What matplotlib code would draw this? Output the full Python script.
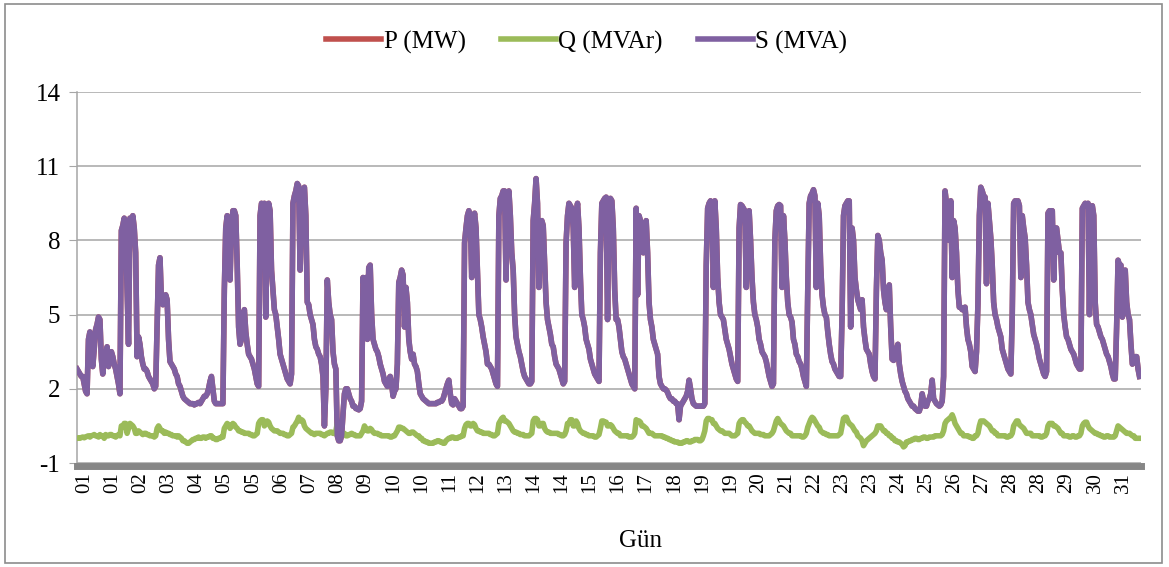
import numpy as np
import matplotlib
matplotlib.use("Agg")
import matplotlib.pyplot as plt
from matplotlib.patches import Rectangle

# hourly values, one row per day (01..31)
s_mva = [
    [2.8, 2.7, 2.6, 2.5, 2.5, 2.2, 1.9, 1.8, 4.0, 4.3, 3.2, 2.9, 3.6, 4.4, 4.6, 4.9, 4.8, 3.2, 2.6, 3.5, 3.3, 3.7, 2.9, 3.4],
    [3.5, 3.3, 3.0, 2.8, 2.5, 2.2, 1.8, 8.4, 8.6, 8.9, 8.5, 6.0, 3.8, 8.9, 8.7, 9.0, 8.5, 7.5, 3.3, 4.1, 3.8, 3.3, 3.0, 2.8],
    [2.8, 2.7, 2.5, 2.4, 2.3, 2.2, 2.0, 2.1, 4.5, 7.0, 7.3, 5.6, 5.4, 5.6, 5.8, 5.6, 4.0, 3.1, 3.0, 2.9, 2.8, 2.6, 2.5, 2.2],
    [2.1, 1.9, 1.7, 1.6, 1.55, 1.5, 1.45, 1.4, 1.4, 1.4, 1.35, 1.4, 1.4, 1.45, 1.4, 1.5, 1.6, 1.7, 1.7, 1.8, 2.0, 2.3, 2.5, 2.0],
    [1.5, 1.4, 1.4, 1.4, 1.4, 1.4, 1.4, 6.0, 8.5, 9.0, 8.8, 6.4, 8.5, 9.2, 9.2, 9.0, 7.0, 4.5, 3.8, 4.0, 4.6, 5.2, 4.3, 3.8],
    [3.4, 3.3, 3.2, 3.0, 2.8, 2.5, 2.2, 2.1, 9.0, 9.5, 9.4, 9.5, 4.9, 9.0, 9.5, 9.2, 6.8, 6.0, 5.2, 5.0, 4.5, 4.0, 3.4, 3.2],
    [3.0, 2.8, 2.6, 2.4, 2.3, 2.2, 2.6, 9.5, 9.8, 10.0, 10.3, 10.2, 6.8, 9.0, 10.0, 10.15, 9.0, 5.5, 5.4, 5.0, 4.8, 4.6, 4.0, 3.7],
    [3.6, 3.4, 3.3, 3.0, 2.5, 0.5, 2.0, 6.4, 5.5, 5.0, 4.8, 3.5, 3.0, 2.8, 0.1, -0.1, -0.1, 0.1, 1.0, 1.8, 2.0, 2.0, 1.8, 1.6],
    [1.5, 1.3, 1.3, 1.2, 1.2, 1.15, 1.2, 1.5, 6.5, 6.0, 6.5, 4.0, 6.9, 7.0, 5.0, 4.0, 3.8, 3.6, 3.5, 3.3, 3.0, 2.8, 2.6, 2.3],
    [2.2, 2.1, 2.4, 2.5, 2.2, 1.7, 1.9, 2.0, 3.0, 6.3, 6.5, 6.8, 6.6, 4.5, 6.1, 5.5, 4.0, 3.5, 3.2, 3.4, 3.0, 2.9, 2.7, 2.2],
    [1.8, 1.7, 1.6, 1.55, 1.5, 1.45, 1.4, 1.4, 1.4, 1.4, 1.4, 1.4, 1.45, 1.45, 1.5, 1.5, 1.6, 1.8, 2.0, 2.2, 2.35, 1.8, 1.4, 1.35],
    [1.6, 1.5, 1.4, 1.3, 1.2, 1.2, 1.3, 7.9, 8.5, 9.0, 9.2, 9.0, 6.5, 8.8, 9.1, 8.5, 6.8, 5.0, 4.8, 4.5, 4.1, 3.8, 3.5, 3.0],
    [3.0, 2.9, 2.8, 2.6, 2.4, 2.2, 2.1, 9.0, 9.7, 9.8, 10.0, 10.0, 6.4, 9.8, 10.0, 9.0, 7.5, 6.8, 5.0, 4.1, 3.8, 3.5, 3.3, 3.0],
    [2.7, 2.5, 2.4, 2.3, 2.2, 2.2, 2.3, 8.8, 9.5, 10.5, 9.5, 6.1, 8.5, 8.8, 8.6, 7.0, 5.5, 4.8, 4.5, 4.2, 3.8, 3.7, 3.3, 3.0],
    [2.9, 2.8, 2.6, 2.4, 2.2, 2.3, 7.9, 9.0, 9.5, 9.4, 9.3, 8.5, 6.1, 9.0, 9.5, 8.5, 6.5, 5.0, 4.8, 4.5, 4.0, 3.8, 3.6, 3.2],
    [3.0, 2.8, 2.6, 2.5, 2.4, 2.3, 7.5, 9.5, 9.6, 9.7, 9.75, 4.8, 9.5, 9.7, 9.6, 8.5, 6.0, 4.8, 4.8, 4.5, 4.0, 3.5, 3.3, 3.2],
    [3.0, 2.8, 2.6, 2.4, 2.2, 2.1, 2.0, 9.3, 5.8, 9.0, 8.8, 8.6, 7.5, 8.5, 8.8, 7.5, 5.5, 4.8, 4.5, 4.0, 3.8, 3.6, 3.4, 2.5],
    [2.2, 2.1, 2.0, 2.0, 1.95, 1.85, 1.7, 1.6, 1.6, 1.5, 1.5, 1.4, 1.4, 0.75, 1.3, 1.4, 1.5, 1.6, 1.7, 1.9, 2.35, 2.0, 1.6, 1.4],
    [1.35, 1.3, 1.3, 1.3, 1.3, 1.3, 1.3, 1.4, 7.0, 9.3, 9.5, 9.6, 9.4, 6.1, 9.6, 8.5, 6.5, 5.5, 5.0, 4.9, 4.8, 4.4, 4.0, 3.8],
    [3.6, 3.3, 3.0, 2.8, 2.6, 2.4, 2.3, 8.5, 9.45, 9.4, 9.3, 9.2, 6.1, 9.0, 9.2, 8.0, 6.5, 5.5, 5.0, 4.8, 4.5, 4.0, 3.8, 3.5],
    [3.4, 3.3, 3.1, 2.8, 2.5, 2.3, 2.1, 2.2, 8.0, 9.2, 9.4, 9.45, 9.4, 6.1, 9.0, 8.0, 6.5, 5.5, 5.0, 4.9, 4.7, 4.0, 3.8, 3.4],
    [3.3, 3.1, 3.0, 2.8, 2.5, 2.3, 2.1, 6.0, 9.5, 9.8, 9.9, 10.05, 9.8, 6.1, 9.5, 9.0, 7.0, 5.8, 5.3, 5.0, 4.9, 4.3, 3.8, 3.4],
    [3.1, 3.0, 2.8, 2.7, 2.6, 2.5, 2.5, 5.0, 9.0, 9.4, 9.5, 9.6, 9.6, 4.5, 8.5, 8.0, 6.5, 6.0, 5.6, 5.4, 5.2, 5.6, 4.5, 4.0],
    [3.6, 3.5, 3.4, 3.0, 2.7, 2.5, 2.4, 6.0, 8.2, 8.0, 7.5, 7.2, 6.0, 5.5, 5.2, 5.8, 6.2, 4.5, 3.2, 3.15, 3.3, 3.6, 3.8, 3.0],
    [2.6, 2.3, 2.1, 1.9, 1.8, 1.6, 1.5, 1.4, 1.3, 1.3, 1.2, 1.15, 1.1, 1.1, 1.3, 1.8, 1.5, 1.3, 1.3, 1.5, 1.6, 1.8, 2.35, 1.6],
    [1.5, 1.4, 1.35, 1.3, 1.35, 1.5, 2.5, 10.0, 9.5, 9.5, 8.0, 9.6, 6.5, 8.8, 8.5, 7.5, 6.0, 5.3, 5.3, 5.2, 5.2, 5.3, 4.5, 4.0],
    [3.8, 3.5, 2.9, 2.8, 2.7, 3.5, 5.4, 9.0, 10.15, 10.0, 9.8, 9.75, 6.25, 9.5, 8.8, 8.1, 7.0, 5.5, 5.0, 4.8, 4.5, 4.3, 4.1, 3.6],
    [3.4, 3.2, 3.0, 2.8, 2.7, 2.6, 5.0, 9.5, 9.6, 9.5, 9.6, 9.4, 6.5, 9.0, 8.5, 8.1, 7.0, 5.5, 5.2, 5.0, 4.6, 4.2, 4.0, 3.8],
    [3.5, 3.2, 3.0, 2.8, 2.6, 2.5, 2.7, 9.1, 9.2, 9.0, 9.2, 6.4, 8.5, 8.5, 8.0, 7.5, 7.5, 6.0, 5.0, 4.5, 4.1, 4.0, 3.8, 3.6],
    [3.5, 3.4, 3.2, 3.0, 2.9, 2.8, 2.8, 9.3, 9.4, 9.5, 9.4, 9.5, 5.0, 9.2, 9.4, 9.0, 5.5, 4.6, 4.5, 4.3, 4.1, 4.0, 3.8, 3.6],
    [3.4, 3.3, 3.1, 2.9, 2.6, 2.4, 2.4, 4.5, 7.2, 7.0, 7.0, 4.9, 6.6, 6.8, 5.5, 5.0, 4.8, 3.8, 3.0, 3.1, 3.3, 3.3, 2.8, 2.5],
]

# P lies right under S (Q is small), the red line barely shows anywhere
p_mw = [
    [2.8, 2.7, 2.6, 2.5, 2.5, 2.2, 1.9, 1.8, 4.0, 4.3, 3.2, 2.9, 3.6, 4.4, 4.6, 4.9, 4.8, 3.2, 2.6, 3.5, 3.3, 3.7, 2.9, 3.4],
    [3.5, 3.3, 3.0, 2.8, 2.5, 2.2, 1.8, 8.4, 8.6, 8.9, 8.5, 6.0, 3.8, 8.9, 8.7, 9.0, 8.5, 7.5, 3.3, 4.1, 3.8, 3.3, 3.0, 2.8],
    [2.8, 2.7, 2.5, 2.4, 2.3, 2.2, 2.0, 2.1, 4.5, 7.0, 7.3, 5.6, 5.4, 5.6, 5.8, 5.6, 4.0, 3.1, 3.0, 2.9, 2.8, 2.6, 2.5, 2.2],
    [2.1, 1.9, 1.7, 1.6, 1.55, 1.5, 1.45, 1.4, 1.4, 1.4, 1.35, 1.4, 1.4, 1.45, 1.4, 1.5, 1.6, 1.7, 1.7, 1.8, 2.0, 2.3, 2.5, 2.0],
    [1.5, 1.4, 1.4, 1.4, 1.4, 1.4, 1.4, 6.0, 8.5, 9.0, 8.8, 6.4, 8.5, 9.2, 9.2, 9.0, 7.0, 4.5, 3.8, 4.0, 4.6, 5.2, 4.3, 3.8],
    [3.4, 3.3, 3.2, 3.0, 2.8, 2.5, 2.2, 2.1, 9.0, 9.5, 9.4, 9.5, 4.9, 9.0, 9.5, 9.2, 6.8, 6.0, 5.2, 5.0, 4.5, 4.0, 3.4, 3.2],
    [3.0, 2.8, 2.6, 2.4, 2.3, 2.2, 2.6, 9.5, 9.8, 10.0, 10.3, 10.2, 6.8, 9.0, 10.0, 10.15, 9.0, 5.5, 5.4, 5.0, 4.8, 4.6, 4.0, 3.7],
    [3.6, 3.4, 3.3, 3.0, 2.5, 0.5, 2.0, 6.4, 5.5, 5.0, 4.8, 3.5, 3.0, 2.8, 0.1, -0.1, -0.1, 0.1, 1.0, 1.8, 2.0, 2.0, 1.8, 1.6],
    [1.5, 1.3, 1.3, 1.2, 1.2, 1.15, 1.2, 1.5, 6.5, 6.0, 6.5, 4.0, 6.9, 7.0, 5.0, 4.0, 3.8, 3.6, 3.5, 3.3, 3.0, 2.8, 2.6, 2.3],
    [2.2, 2.1, 2.4, 2.5, 2.2, 1.7, 1.9, 2.0, 3.0, 6.3, 6.5, 6.8, 6.6, 4.5, 6.1, 5.5, 4.0, 3.5, 3.2, 3.4, 3.0, 2.9, 2.7, 2.2],
    [1.8, 1.7, 1.6, 1.55, 1.5, 1.45, 1.4, 1.4, 1.4, 1.4, 1.4, 1.4, 1.45, 1.45, 1.5, 1.5, 1.6, 1.8, 2.0, 2.2, 2.35, 1.8, 1.4, 1.35],
    [1.6, 1.5, 1.4, 1.3, 1.2, 1.2, 1.3, 7.9, 8.5, 9.0, 9.2, 9.0, 6.5, 8.8, 9.1, 8.5, 6.8, 5.0, 4.8, 4.5, 4.1, 3.8, 3.5, 3.0],
    [3.0, 2.9, 2.8, 2.6, 2.4, 2.2, 2.1, 9.0, 9.7, 9.8, 10.0, 10.0, 6.4, 9.8, 10.0, 9.0, 7.5, 6.8, 5.0, 4.1, 3.8, 3.5, 3.3, 3.0],
    [2.7, 2.5, 2.4, 2.3, 2.2, 2.2, 2.3, 8.8, 9.5, 10.5, 9.5, 6.1, 8.5, 8.8, 8.6, 7.0, 5.5, 4.8, 4.5, 4.2, 3.8, 3.7, 3.3, 3.0],
    [2.9, 2.8, 2.6, 2.4, 2.2, 2.3, 7.9, 9.0, 9.5, 9.4, 9.3, 8.5, 6.1, 9.0, 9.5, 8.5, 6.5, 5.0, 4.8, 4.5, 4.0, 3.8, 3.6, 3.2],
    [3.0, 2.8, 2.6, 2.5, 2.4, 2.3, 7.5, 9.5, 9.6, 9.7, 9.75, 4.8, 9.5, 9.7, 9.6, 8.5, 6.0, 4.8, 4.8, 4.5, 4.0, 3.5, 3.3, 3.2],
    [3.0, 2.8, 2.6, 2.4, 2.2, 2.1, 2.0, 9.3, 5.8, 9.0, 8.8, 8.6, 7.5, 8.5, 8.8, 7.5, 5.5, 4.8, 4.5, 4.0, 3.8, 3.6, 3.4, 2.5],
    [2.2, 2.1, 2.0, 2.0, 1.95, 1.85, 1.7, 1.6, 1.6, 1.5, 1.5, 1.4, 1.4, 0.75, 1.3, 1.4, 1.5, 1.6, 1.7, 1.9, 2.35, 2.0, 1.6, 1.4],
    [1.35, 1.3, 1.3, 1.3, 1.3, 1.3, 1.3, 1.4, 7.0, 9.3, 9.5, 9.6, 9.4, 6.1, 9.6, 8.5, 6.5, 5.5, 5.0, 4.9, 4.8, 4.4, 4.0, 3.8],
    [3.6, 3.3, 3.0, 2.8, 2.6, 2.4, 2.3, 8.5, 9.45, 9.4, 9.3, 9.2, 6.1, 9.0, 9.2, 8.0, 6.5, 5.5, 5.0, 4.8, 4.5, 4.0, 3.8, 3.5],
    [3.4, 3.3, 3.1, 2.8, 2.5, 2.3, 2.1, 2.2, 8.0, 9.2, 9.4, 9.45, 9.4, 6.1, 9.0, 8.0, 6.5, 5.5, 5.0, 4.9, 4.7, 4.0, 3.8, 3.4],
    [3.3, 3.1, 3.0, 2.8, 2.5, 2.3, 2.1, 6.0, 9.5, 9.8, 9.9, 10.05, 9.8, 6.1, 9.5, 9.0, 7.0, 5.8, 5.3, 5.0, 4.9, 4.3, 3.8, 3.4],
    [3.1, 3.0, 2.8, 2.7, 2.6, 2.5, 2.5, 5.0, 9.0, 9.4, 9.5, 9.6, 9.6, 4.5, 8.5, 8.0, 6.5, 6.0, 5.6, 5.4, 5.2, 5.6, 4.5, 4.0],
    [3.6, 3.5, 3.4, 3.0, 2.7, 2.5, 2.4, 6.0, 8.2, 8.0, 7.5, 7.2, 6.0, 5.5, 5.2, 5.8, 6.2, 4.5, 3.2, 3.15, 3.3, 3.6, 3.8, 3.0],
    [2.6, 2.3, 2.1, 1.9, 1.8, 1.6, 1.5, 1.4, 1.3, 1.3, 1.2, 1.15, 1.1, 1.1, 1.3, 1.8, 1.5, 1.3, 1.3, 1.5, 1.6, 1.8, 2.35, 1.6],
    [1.5, 1.4, 1.35, 1.3, 1.35, 1.5, 2.5, 10.0, 9.5, 9.5, 8.0, 9.6, 6.5, 8.8, 8.5, 7.5, 6.0, 5.3, 5.3, 5.2, 5.2, 5.3, 4.5, 4.0],
    [3.8, 3.5, 2.9, 2.8, 2.7, 3.5, 5.4, 9.0, 10.15, 10.0, 9.8, 9.75, 6.25, 9.5, 8.8, 8.1, 7.0, 5.5, 5.0, 4.8, 4.5, 4.3, 4.1, 3.6],
    [3.4, 3.2, 3.0, 2.8, 2.7, 2.6, 5.0, 9.5, 9.6, 9.5, 9.6, 9.4, 6.5, 9.0, 8.5, 8.1, 7.0, 5.5, 5.2, 5.0, 4.6, 4.2, 4.0, 3.8],
    [3.5, 3.2, 3.0, 2.8, 2.6, 2.5, 2.7, 9.1, 9.2, 9.0, 9.2, 6.4, 8.5, 8.5, 8.0, 7.5, 7.5, 6.0, 5.0, 4.5, 4.1, 4.0, 3.8, 3.6],
    [3.5, 3.4, 3.2, 3.0, 2.9, 2.8, 2.8, 9.3, 9.4, 9.5, 9.4, 9.5, 5.0, 9.2, 9.4, 9.0, 5.5, 4.6, 4.5, 4.3, 4.1, 4.0, 3.8, 3.6],
    [3.4, 3.3, 3.1, 2.9, 2.6, 2.4, 2.4, 4.5, 7.2, 7.0, 7.0, 4.9, 6.6, 6.8, 5.5, 5.0, 4.8, 3.8, 3.0, 3.1, 3.3, 3.3, 2.8, 2.5],
]

q_mvar = [
    [0.0, 0.02, 0.0, 0.03, 0.05, 0.02, 0.05, 0.08, 0.1, 0.05, 0.1, 0.12, 0.15, 0.1, 0.1, 0.05, 0.15, 0.1, 0.1, 0.0, 0.15, 0.1, 0.1, 0.15],
    [0.15, 0.1, 0.1, 0.05, 0.1, 0.15, 0.1, 0.5, 0.45, 0.6, 0.6, 0.2, 0.4, 0.6, 0.55, 0.5, 0.4, 0.2, 0.2, 0.3, 0.25, 0.2, 0.15, 0.2],
    [0.2, 0.15, 0.15, 0.1, 0.1, 0.1, 0.05, 0.1, 0.4, 0.5, 0.4, 0.3, 0.3, 0.2, 0.25, 0.2, 0.2, 0.15, 0.15, 0.1, 0.1, 0.1, 0.05, 0.1],
    [0.05, 0.0, -0.1, -0.1, -0.15, -0.2, -0.2, -0.15, -0.1, -0.05, -0.05, 0.0, 0.0, 0.05, 0.0, 0.0, 0.05, 0.05, 0.0, 0.05, 0.05, 0.1, 0.1, 0.0],
    [0.0, -0.05, -0.05, 0.0, 0.0, 0.05, 0.05, 0.4, 0.5, 0.6, 0.55, 0.4, 0.5, 0.6, 0.55, 0.45, 0.4, 0.3, 0.3, 0.25, 0.25, 0.2, 0.2, 0.2],
    [0.2, 0.15, 0.15, 0.1, 0.1, 0.15, 0.2, 0.6, 0.7, 0.75, 0.75, 0.5, 0.6, 0.7, 0.65, 0.5, 0.4, 0.35, 0.3, 0.3, 0.3, 0.25, 0.2, 0.2],
    [0.2, 0.15, 0.15, 0.1, 0.1, 0.15, 0.2, 0.45, 0.5, 0.6, 0.7, 0.85, 0.7, 0.75, 0.7, 0.5, 0.4, 0.35, 0.3, 0.25, 0.2, 0.2, 0.15, 0.2],
    [0.2, 0.2, 0.2, 0.15, 0.15, 0.1, 0.15, 0.2, 0.2, 0.25, 0.25, 0.2, 0.2, 0.3, 0.6, 0.2, 0.15, 0.15, 0.2, 0.2, 0.1, 0.1, 0.15, 0.15],
    [0.2, 0.15, 0.15, 0.1, 0.1, 0.1, 0.1, 0.2, 0.3, 0.5, 0.4, 0.3, 0.3, 0.4, 0.35, 0.25, 0.2, 0.2, 0.2, 0.15, 0.15, 0.1, 0.1, 0.1],
    [0.1, 0.1, 0.1, 0.05, 0.05, 0.1, 0.1, 0.2, 0.3, 0.45, 0.45, 0.4, 0.4, 0.35, 0.3, 0.25, 0.2, 0.2, 0.25, 0.25, 0.2, 0.15, 0.1, 0.1],
    [0.0, 0.0, -0.1, -0.1, -0.15, -0.15, -0.2, -0.2, -0.2, -0.2, -0.15, -0.15, -0.1, -0.1, -0.15, -0.15, -0.2, -0.2, -0.1, -0.05, 0.0, 0.0, 0.05, 0.05],
    [0.0, 0.0, 0.0, 0.05, 0.05, 0.1, 0.1, 0.4, 0.55, 0.6, 0.6, 0.5, 0.5, 0.6, 0.55, 0.4, 0.3, 0.3, 0.25, 0.25, 0.2, 0.2, 0.2, 0.2],
    [0.2, 0.15, 0.15, 0.1, 0.1, 0.15, 0.2, 0.6, 0.7, 0.8, 0.85, 0.7, 0.7, 0.65, 0.6, 0.5, 0.4, 0.3, 0.25, 0.25, 0.2, 0.2, 0.15, 0.15],
    [0.15, 0.1, 0.1, 0.1, 0.1, 0.15, 0.2, 0.7, 0.8, 0.8, 0.75, 0.5, 0.5, 0.6, 0.6, 0.4, 0.3, 0.25, 0.25, 0.2, 0.2, 0.2, 0.2, 0.2],
    [0.2, 0.15, 0.15, 0.1, 0.1, 0.15, 0.3, 0.6, 0.6, 0.75, 0.75, 0.5, 0.5, 0.7, 0.6, 0.4, 0.3, 0.25, 0.2, 0.2, 0.15, 0.15, 0.1, 0.1],
    [0.1, 0.1, 0.05, 0.05, 0.1, 0.15, 0.4, 0.7, 0.7, 0.65, 0.65, 0.5, 0.5, 0.55, 0.5, 0.4, 0.3, 0.25, 0.2, 0.2, 0.1, 0.1, 0.1, 0.1],
    [0.1, 0.1, 0.05, 0.05, 0.05, 0.1, 0.2, 0.75, 0.7, 0.7, 0.65, 0.5, 0.5, 0.45, 0.4, 0.3, 0.2, 0.2, 0.2, 0.15, 0.1, 0.1, 0.1, 0.1],
    [0.1, 0.1, 0.05, 0.05, 0.0, 0.0, -0.05, -0.05, -0.1, -0.1, -0.15, -0.15, -0.15, -0.2, -0.2, -0.2, -0.15, -0.15, -0.1, -0.1, -0.15, -0.15, -0.1, -0.1],
    [-0.05, -0.05, -0.05, -0.1, -0.1, -0.05, 0.1, 0.3, 0.7, 0.8, 0.8, 0.75, 0.75, 0.6, 0.6, 0.5, 0.4, 0.35, 0.3, 0.3, 0.25, 0.2, 0.2, 0.2],
    [0.2, 0.15, 0.1, 0.1, 0.1, 0.15, 0.2, 0.6, 0.7, 0.75, 0.75, 0.65, 0.6, 0.5, 0.5, 0.4, 0.3, 0.25, 0.2, 0.2, 0.2, 0.2, 0.15, 0.15],
    [0.15, 0.1, 0.1, 0.1, 0.1, 0.15, 0.2, 0.3, 0.5, 0.7, 0.8, 0.7, 0.6, 0.55, 0.5, 0.4, 0.3, 0.25, 0.2, 0.2, 0.1, 0.1, 0.1, 0.1],
    [0.1, 0.1, 0.1, 0.05, 0.05, 0.1, 0.2, 0.45, 0.6, 0.75, 0.85, 0.8, 0.7, 0.6, 0.5, 0.45, 0.3, 0.25, 0.2, 0.2, 0.15, 0.15, 0.1, 0.1],
    [0.1, 0.1, 0.1, 0.1, 0.1, 0.15, 0.2, 0.5, 0.8, 0.85, 0.85, 0.7, 0.6, 0.55, 0.5, 0.4, 0.3, 0.25, 0.1, 0.05, 0.0, -0.1, -0.3, -0.2],
    [-0.1, -0.05, 0.0, 0.05, 0.1, 0.15, 0.2, 0.3, 0.5, 0.5, 0.5, 0.4, 0.3, 0.3, 0.2, 0.2, 0.1, 0.1, 0.0, 0.0, -0.1, -0.1, -0.15, -0.15],
    [-0.2, -0.25, -0.35, -0.3, -0.15, -0.15, -0.1, -0.1, -0.05, -0.05, 0.0, 0.0, -0.05, -0.05, 0.0, 0.0, 0.05, 0.05, 0.0, 0.0, 0.05, 0.05, 0.05, 0.05],
    [0.1, 0.1, 0.1, 0.1, 0.1, 0.15, 0.3, 0.6, 0.7, 0.75, 0.8, 0.85, 0.95, 0.8, 0.6, 0.5, 0.4, 0.3, 0.2, 0.2, 0.1, 0.1, 0.1, 0.1],
    [0.05, 0.05, 0.0, 0.0, 0.1, 0.1, 0.2, 0.5, 0.7, 0.7, 0.7, 0.65, 0.6, 0.55, 0.5, 0.4, 0.3, 0.3, 0.2, 0.2, 0.1, 0.1, 0.1, 0.1],
    [0.1, 0.1, 0.05, 0.05, 0.1, 0.1, 0.2, 0.5, 0.6, 0.7, 0.7, 0.55, 0.5, 0.45, 0.4, 0.3, 0.2, 0.2, 0.2, 0.2, 0.1, 0.1, 0.1, 0.1],
    [0.1, 0.1, 0.05, 0.05, 0.1, 0.1, 0.2, 0.5, 0.6, 0.6, 0.6, 0.5, 0.5, 0.45, 0.4, 0.3, 0.2, 0.2, 0.1, 0.1, 0.1, 0.1, 0.05, 0.05],
    [0.1, 0.1, 0.05, 0.05, 0.1, 0.1, 0.2, 0.5, 0.6, 0.65, 0.65, 0.5, 0.4, 0.35, 0.3, 0.25, 0.2, 0.2, 0.15, 0.15, 0.1, 0.1, 0.05, 0.05],
    [0.1, 0.1, 0.05, 0.05, 0.05, 0.05, 0.1, 0.3, 0.5, 0.45, 0.4, 0.35, 0.3, 0.25, 0.2, 0.2, 0.2, 0.15, 0.1, 0.1, 0.0, 0.0, 0.0, 0.0],
]

tick_labels = ["01", "01", "02", "03", "04", "05", "05", "06", "07", "08",
               "09", "10", "10", "11", "12", "13", "14", "14", "15", "16",
               "17", "18", "19", "19", "20", "21", "22", "23", "23", "24",
               "25", "26", "27", "28", "28", "29", "30", "31"]
y_ticks = [-1, 2, 5, 8, 11, 14]

plt.rcParams["font.family"] = ["Liberation Serif", "DejaVu Serif"]
plt.rcParams["axes.unicode_minus"] = False

s = np.ravel(s_mva)
p = np.ravel(p_mw)
q = np.ravel(q_mvar)
t = np.arange(len(s)) / 24.0  # days

fig = plt.figure(figsize=(11.69, 5.67), dpi=100)
ax = fig.add_axes([0.0659, 0.1834, 0.9101, 0.6543])

# spines first: moving a spine resets the ticks
for side in ("top", "right"):
    ax.spines[side].set_visible(False)
ax.spines["left"].set_color("#a6a6a6")
ax.spines["left"].set_linewidth(1.1)
ax.spines["bottom"].set_color("#868686")
ax.spines["bottom"].set_linewidth(5)
ax.spines["bottom"].set_position(("outward", 2.5))

ax.plot(t, p, color="#c0504d", lw=4.0, label="P (MW)", zorder=3)
ax.plot(t, q, color="#9bbb59", lw=4.0, label="Q (MVAr)", zorder=3)
ax.plot(t, s, color="#7f60a1", lw=4.0, label="S (MVA)", zorder=4)

ax.set_xlim(0, 31)
ax.set_ylim(-1, 14)
ax.set_yticks(y_ticks)
ax.yaxis.grid(True, color="#a6a6a6", lw=1.1)
ax.set_axisbelow(True)

tick_pos = 0.23 + np.arange(len(tick_labels)) * 0.8176
ax.set_xticks(tick_pos)
ax.set_xticklabels(tick_labels)
ax.tick_params(axis="x", length=0, pad=4, labelsize=15, labelrotation=90)
ax.tick_params(axis="y", length=6, color="#a6a6a6", labelsize=18, pad=6)

fig.text(640 / 1169, 1 - 541 / 567, "Gün", ha="center", va="center", fontsize=18)

fig.legend(loc="center", bbox_to_anchor=(0.502, 0.926), ncol=3, frameon=False,
           fontsize=18, handlelength=2.2, handletextpad=0.1, columnspacing=1.4)

fig.patches.append(Rectangle((0.004, 0.007), 0.99, 0.986, transform=fig.transFigure,
                             fill=False, edgecolor="#8c8c8c", lw=1.2))

fig.savefig("out.png", dpi=100)
